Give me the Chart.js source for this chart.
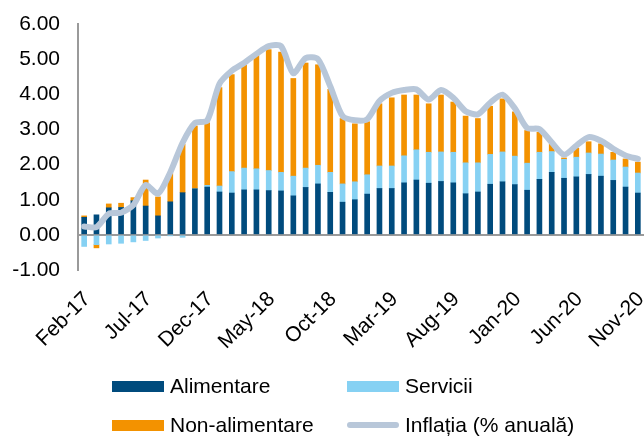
<!DOCTYPE html>
<html><head><meta charset="utf-8">
<script src="https://cdn.jsdelivr.net/npm/chart.js@4/dist/chart.umd.min.js"></script>
<style>
html,body{margin:0;padding:0;background:#fff;}
#wrap{position:relative;width:644px;height:437px;overflow:hidden;}
canvas{position:absolute;left:0;top:0;}
.leg{position:absolute;font-family:"Liberation Sans",Arial,sans-serif;font-size:21px;color:#000;display:flex;align-items:center;white-space:nowrap;height:24px;}
.sw{display:inline-block;width:52px;height:11px;margin-right:6px;}
.ln{display:inline-block;width:52px;height:6px;border-radius:3px;margin-right:6px;}
</style></head><body>
<div id="wrap"><canvas id="c" width="644" height="437"></canvas>
<div class="leg" style="left:112px;top:374px"><span class="sw" style="background:#004B7D"></span>Alimentare</div>
<div class="leg" style="left:347px;top:374px"><span class="sw" style="background:#86D1F3"></span>Servicii</div>
<div class="leg" style="left:112px;top:413px"><span class="sw" style="background:#F39200"></span>Non-alimentare</div>
<div class="leg" style="left:347px;top:413px"><span class="ln" style="background:#B8C7D9"></span>Inflația (% anuală)</div>
</div>
<script>
const categories = ["Feb-17","Mar-17","Apr-17","May-17","Jun-17","Jul-17","Aug-17","Sep-17","Oct-17","Nov-17","Dec-17",
"Jan-18","Feb-18","Mar-18","Apr-18","May-18","Jun-18","Jul-18","Aug-18","Sep-18","Oct-18","Nov-18","Dec-18",
"Jan-19","Feb-19","Mar-19","Apr-19","May-19","Jun-19","Jul-19","Aug-19","Sep-19","Oct-19","Nov-19","Dec-19",
"Jan-20","Feb-20","Mar-20","Apr-20","May-20","Jun-20","Jul-20","Aug-20","Sep-20","Oct-20","Nov-20"];
const alimentare = [0.50,0.57,0.77,0.78,0.97,0.82,0.54,0.94,1.20,1.31,1.36,
1.22,1.19,1.28,1.28,1.26,1.25,1.11,1.35,1.45,1.21,0.93,1.00,
1.16,1.32,1.32,1.48,1.56,1.47,1.52,1.48,1.17,1.22,1.44,1.51,
1.43,1.27,1.58,1.78,1.61,1.65,1.72,1.67,1.55,1.36,1.19];
const servicii = [-0.33,-0.28,-0.26,-0.24,-0.20,-0.16,-0.09,-0.02,-0.07,0.00,0.05,
0.17,0.61,0.62,0.60,0.57,0.53,0.56,0.55,0.53,0.57,0.52,0.51,
0.55,0.64,0.64,0.77,0.86,0.88,0.84,0.87,0.88,0.83,0.85,0.85,
0.81,0.77,0.77,0.59,0.54,0.56,0.61,0.63,0.58,0.57,0.57];
const nonAlimentare = [0.04,-0.09,0.11,0.12,0.09,0.74,0.54,0.83,1.38,1.79,1.78,
2.80,2.76,2.94,3.23,3.44,3.42,2.78,2.99,2.86,2.36,1.86,1.65,
1.51,1.77,1.94,1.73,1.56,1.38,1.62,1.43,1.33,1.26,1.37,1.51,
1.26,0.93,0.57,0.22,0.04,0.26,0.32,0.29,0.22,0.23,0.31];
const inflatia = [0.24,0.22,0.60,0.63,0.85,1.42,1.17,1.78,2.62,3.18,3.25,
4.30,4.67,4.89,5.15,5.37,5.37,4.60,5.03,5.00,4.23,3.38,3.26,
3.29,3.81,4.04,4.12,4.14,3.85,4.12,3.90,3.52,3.43,3.76,3.99,
3.60,3.04,3.01,2.63,2.28,2.54,2.78,2.68,2.45,2.26,2.16];
const yTicks = [-1,0,1,2,3,4,5,6];

const FONT = {family:'"Liberation Sans", Arial, sans-serif', size:21};
new Chart(document.getElementById('c'), {
  data: {
    labels: categories,
    datasets: [
      {type:'line', label:'Inflația (% anuală)', data: inflatia, borderColor:'#B8C7D9', borderWidth:6,
       pointRadius:0, tension:0.25, borderJoinStyle:'round', borderCapStyle:'round', stack:'inf', order:0},
      {type:'bar', label:'Alimentare', data: alimentare, backgroundColor:'#004B7D', barThickness:5, stack:'s', order:1},
      {type:'bar', label:'Servicii', data: servicii, backgroundColor:'#86D1F3', barThickness:5, stack:'s', order:1},
      {type:'bar', label:'Non-alimentare', data: nonAlimentare, backgroundColor:'#F39200', barThickness:5, stack:'s', order:1}
    ]
  },
  options: {
    responsive:false, animation:false, devicePixelRatio:1,
    layout:{padding:{top:24,left:0,right:0,bottom:0}},
    plugins:{legend:{display:false}, tooltip:{enabled:false}},
    scales:{
      x:{
        stacked:true, offset:true,
        grid:{display:false}, border:{display:false},
        ticks:{autoSkip:false, maxRotation:45, minRotation:45, font:FONT, color:'#000', padding:9, labelOffset:3,
          callback:function(v,i){ return i%5===0 ? categories[i] : ''; }},
        afterFit:function(s){ s.height = 167; s.paddingLeft = 0; s.paddingRight = 0; }
      },
      y:{
        stacked:true, min:-1, max:6,
        afterBuildTicks:function(s){ s.ticks = yTicks.map(v=>({value:v})); },
        grid:{drawTicks:false, lineWidth:2, color:function(ctx){ return ctx.tick && ctx.tick.value===0 ? '#9A9A9A' : 'rgba(0,0,0,0)'; }},
        border:{display:true, color:'#9A9A9A', width:2},
        ticks:{font:FONT, color:'#000', padding:18, callback:function(v){ return Number(v).toFixed(2); }},
        afterFit:function(s){ s.width = 78; s.paddingTop = 0; s.paddingBottom = 0; }
      }
    }
  }
});
</script>
</body></html>
